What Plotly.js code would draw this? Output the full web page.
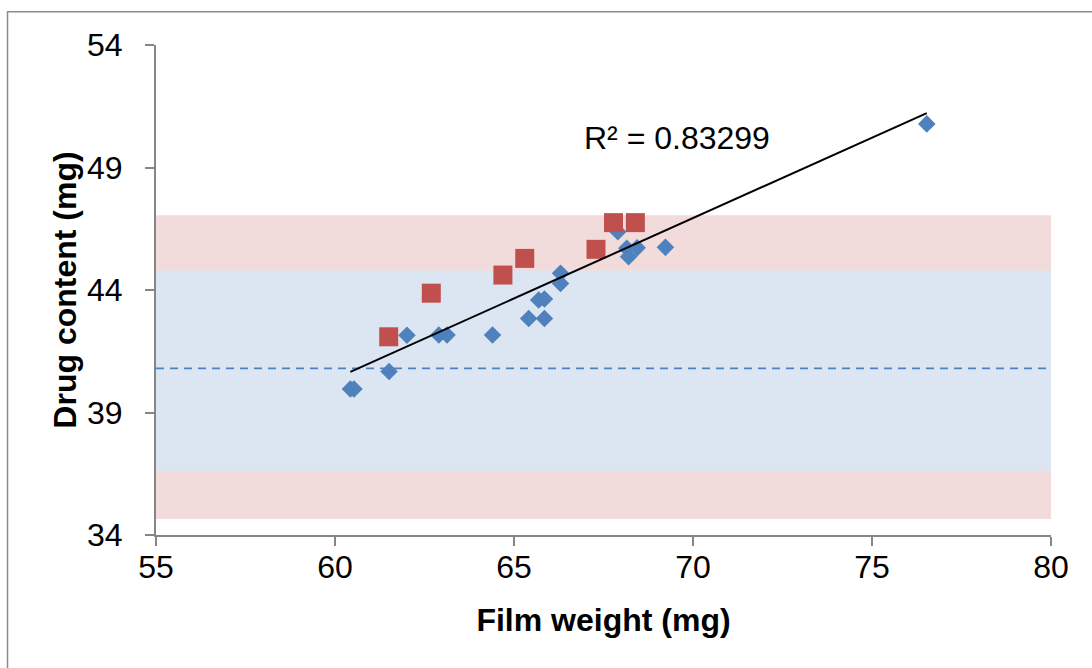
<!DOCTYPE html>
<html>
<head>
<meta charset="utf-8">
<script src="https://cdn.plot.ly/plotly-3.0.1.min.js"></script>
<style>
  html, body { margin: 0; padding: 0; background: #ffffff; }
  #chart { width: 1092px; height: 668px; }
</style>
</head>
<body>
<div id="chart"></div>
<script>
// ---- Data ----
const blueWeight  = [60.43, 60.53, 61.51, 62.01, 62.90, 63.13, 64.40, 65.41, 65.85, 65.69, 65.85, 66.30, 66.30, 67.90, 68.15, 68.20, 68.44, 69.23, 76.53];
const blueContent = [39.96, 39.96, 40.67, 42.15, 42.16, 42.16, 42.16, 42.84, 42.84, 43.59, 43.63, 44.27, 44.68, 46.38, 45.70, 45.36, 45.72, 45.74, 50.78];
const redWeight   = [61.50, 62.69, 64.69, 65.30, 67.29, 67.78, 68.39];
const redContent  = [42.09, 43.87, 44.61, 45.29, 45.66, 46.75, 46.75];
const targetContent = 40.8;
const outerBand = [34.65, 47.05];
const innerBand = [36.62, 44.80];
const xRange = [55, 80];
const yRange = [34, 54];
const xTicks = [55, 60, 65, 70, 75, 80];
const yTicks = [34, 39, 44, 49, 54];
const r2Label = 'R² = 0.83299';

// ---- Linear trendline fitted to all points ----
const allX = blueWeight.concat(redWeight);
const allY = blueContent.concat(redContent);
function fit(xs, ys) {
  const n = xs.length;
  const mx = xs.reduce((a, b) => a + b, 0) / n;
  const my = ys.reduce((a, b) => a + b, 0) / n;
  let sxy = 0, sxx = 0;
  for (let i = 0; i < n; i++) { sxy += (xs[i] - mx) * (ys[i] - my); sxx += (xs[i] - mx) ** 2; }
  const m = sxy / sxx;
  return { m: m, b: my - m * mx };
}
const tl = fit(allX, allY);
const tlX = [Math.min(...allX), Math.max(...allX)];
const tlY = tlX.map(v => tl.m * v + tl.b);

const FONT = 'Liberation Sans, Arial, Helvetica, sans-serif';
const AXIS_COLOR = '#868686';

const traces = [
  {
    x: xRange, y: [targetContent, targetContent],
    mode: 'lines', type: 'scatter',
    line: { color: '#4F81BD', width: 1.8, dash: '8px,6px' },
    hoverinfo: 'skip', showlegend: false
  },
  {
    x: blueWeight, y: blueContent,
    mode: 'markers', type: 'scatter',
    marker: { symbol: 'diamond', size: 13.5, color: '#4F81BD', line: { width: 0 } },
    showlegend: false
  },
  {
    x: redWeight, y: redContent,
    mode: 'markers', type: 'scatter',
    marker: { symbol: 'square', size: 19, color: '#C0504D', line: { width: 0 } },
    showlegend: false
  },
  {
    x: tlX, y: tlY,
    mode: 'lines', type: 'scatter',
    line: { color: '#000000', width: 2 },
    hoverinfo: 'skip', showlegend: false
  }
];

const layout = {
  width: 1092, height: 668,
  margin: { l: 156, r: 41, t: 45, b: 133 },
  paper_bgcolor: '#ffffff', plot_bgcolor: '#ffffff',
  font: { family: FONT, color: '#000000', size: 32 },
  showlegend: false,
  xaxis: {
    range: xRange, tickvals: xTicks, ticktext: xTicks.map(String),
    showgrid: false, zeroline: false,
    showline: true, linecolor: AXIS_COLOR, linewidth: 2,
    ticks: 'outside', ticklen: 9, tickwidth: 2, tickcolor: AXIS_COLOR,
    ticklabelstandoff: -6,
    tickfont: { family: FONT, size: 32, color: '#000000' },
    title: { text: '<b>Film weight (mg)</b>', font: { family: FONT, size: 32, color: '#000000' }, standoff: 24 },
    automargin: false, fixedrange: true
  },
  yaxis: {
    range: yRange, tickvals: yTicks, ticktext: yTicks.map(String),
    showgrid: false, zeroline: false,
    showline: true, linecolor: AXIS_COLOR, linewidth: 2,
    ticks: 'outside', ticklen: 9, tickwidth: 2, tickcolor: AXIS_COLOR,
    ticklabelstandoff: 16,
    tickfont: { family: FONT, size: 32, color: '#000000' },
    title: { text: '<b>Drug content (mg)</b>', font: { family: FONT, size: 32, color: '#000000' }, standoff: 1 },
    automargin: false, fixedrange: true
  },
  shapes: [
    { type: 'rect', xref: 'x', yref: 'y', x0: xRange[0], x1: xRange[1], y0: outerBand[0], y1: outerBand[1],
      fillcolor: '#F2DCDB', line: { width: 0 }, layer: 'below' },
    { type: 'rect', xref: 'x', yref: 'y', x0: xRange[0], x1: xRange[1], y0: innerBand[0], y1: innerBand[1],
      fillcolor: '#DCE6F2', line: { width: 0 }, layer: 'below' },
    { type: 'rect', xref: 'paper', yref: 'paper', x0: -0.1659, x1: 1.2, y0: -0.5, y1: 1.068,
      fillcolor: 'rgba(0,0,0,0)', line: { color: '#8C8C8C', width: 1.5 }, layer: 'above' }
  ],
  annotations: [
    { x: 66.90, y: 50.2, xref: 'x', yref: 'y', text: r2Label, showarrow: false,
      xanchor: 'left', yanchor: 'middle', font: { family: FONT, size: 32, color: '#000000' } }
  ]
};

Plotly.newPlot('chart', traces, layout, { displayModeBar: false, staticPlot: true });
</script>
</body>
</html>
